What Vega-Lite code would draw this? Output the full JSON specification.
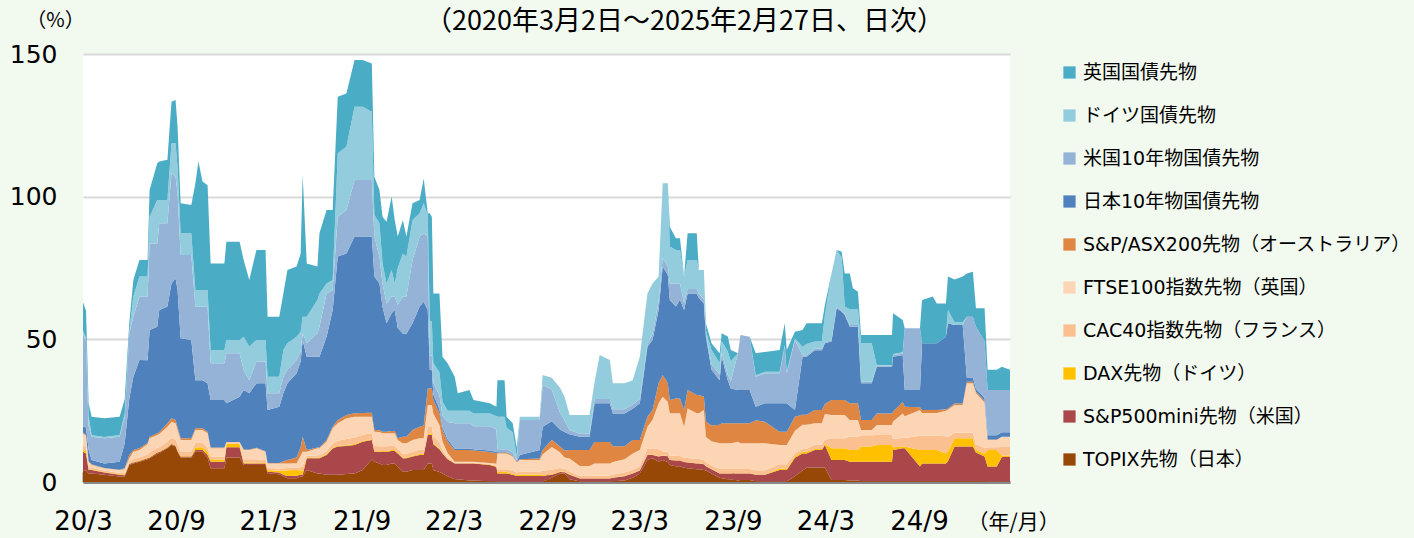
{
  "$schema": "https://vega.github.io/schema/vega-lite/v6.json",
  "width": 927,
  "height": 428,
  "autosize": {"type": "none"},
  "padding": {"left": 83, "top": 54, "right": 404, "bottom": 56},
  "background": "#f2f9ef",
  "title": {
    "text": "（2020年3月2日～2025年2月27日、日次）",
    "anchor": "middle",
    "frame": "group",
    "dx": 138,
    "dy": 46,
    "offset": 20,
    "font": "Noto Sans CJK JP",
    "fontSize": 27,
    "fontWeight": "normal",
    "color": "#000000"
  },
  "data": {"values": [
{"date":"2020-03-02","topix":4.2,"sp500":6.4,"dax":0.8,"cac40":1.5,"ftse100":4.1,"asx200":0.3,"jgb":2.1,"ust":32.6,"bund":1.0,"gilt":10.0},
{"date":"2020-03-08","topix":4.0,"sp500":6.0,"dax":0.8,"cac40":1.5,"ftse100":4.0,"asx200":0.3,"jgb":2.5,"ust":30.0,"bund":1.5,"gilt":9.4},
{"date":"2020-03-13","topix":3.0,"sp500":1.2,"dax":0.3,"cac40":0.8,"ftse100":1.8,"asx200":0.2,"jgb":4.0,"ust":8.2,"bund":3.5,"gilt":4.6},
{"date":"2020-03-19","topix":3.0,"sp500":1.2,"dax":0.2,"cac40":0.6,"ftse100":1.0,"asx200":0.2,"jgb":1.5,"ust":8.2,"bund":0.6,"gilt":6.4},
{"date":"2020-04-13","topix":2.5,"sp500":0.8,"dax":0.2,"cac40":0.5,"ftse100":0.8,"asx200":0.1,"jgb":1.6,"ust":8.8,"bund":0.5,"gilt":6.5},
{"date":"2020-05-13","topix":1.9,"sp500":0.6,"dax":0.2,"cac40":0.5,"ftse100":1.0,"asx200":0.1,"jgb":2.8,"ust":8.8,"bund":0.6,"gilt":6.4},
{"date":"2020-05-23","topix":1.9,"sp500":0.5,"dax":0.2,"cac40":0.5,"ftse100":1.5,"asx200":0.2,"jgb":8.8,"ust":9.3,"bund":1.0,"gilt":5.1},
{"date":"2020-06-01","topix":6.0,"sp500":0.3,"dax":0.2,"cac40":0.6,"ftse100":1.2,"asx200":1.2,"jgb":19.8,"ust":22.8,"bund":0.5,"gilt":3.0},
{"date":"2020-06-09","topix":6.5,"sp500":0.3,"dax":0.2,"cac40":1.0,"ftse100":2.6,"asx200":0.6,"jgb":25.7,"ust":21.0,"bund":7.1,"gilt":5.8},
{"date":"2020-06-21","topix":7.1,"sp500":0.3,"dax":0.2,"cac40":1.0,"ftse100":2.6,"asx200":0.6,"jgb":31.0,"ust":22.2,"bund":7.0,"gilt":5.8},
{"date":"2020-07-07","topix":8.0,"sp500":0.3,"dax":0.2,"cac40":1.2,"ftse100":3.5,"asx200":0.5,"jgb":29.0,"ust":22.3,"bund":7.0,"gilt":5.8},
{"date":"2020-07-11","topix":8.3,"sp500":0.3,"dax":0.2,"cac40":1.5,"ftse100":5.0,"asx200":0.6,"jgb":37.4,"ust":30.3,"bund":9.4,"gilt":9.3},
{"date":"2020-07-26","topix":10.0,"sp500":0.3,"dax":0.2,"cac40":1.5,"ftse100":4.5,"asx200":0.6,"jgb":37.3,"ust":29.2,"bund":15.2,"gilt":12.9},
{"date":"2020-07-30","topix":10.2,"sp500":0.3,"dax":0.2,"cac40":1.5,"ftse100":4.6,"asx200":0.6,"jgb":42.9,"ust":30.4,"bund":8.1,"gilt":13.5},
{"date":"2020-08-15","topix":11.8,"sp500":0.3,"dax":0.2,"cac40":1.8,"ftse100":5.3,"asx200":1.2,"jgb":40.9,"ust":29.2,"bund":8.1,"gilt":14.1},
{"date":"2020-08-23","topix":13.0,"sp500":0.3,"dax":0.2,"cac40":2.0,"ftse100":5.6,"asx200":1.2,"jgb":47.3,"ust":38.6,"bund":10.5,"gilt":14.6},
{"date":"2020-08-31","topix":12.4,"sp500":0.3,"dax":0.2,"cac40":2.0,"ftse100":5.7,"asx200":1.1,"jgb":49.7,"ust":35.6,"bund":11.7,"gilt":15.2},
{"date":"2020-09-04","topix":10.6,"sp500":0.3,"dax":0.2,"cac40":2.0,"ftse100":5.1,"asx200":1.0,"jgb":48.1,"ust":33.9,"bund":9.3,"gilt":14.0},
{"date":"2020-09-10","topix":8.6,"sp500":0.3,"dax":0.2,"cac40":1.6,"ftse100":4.0,"asx200":0.6,"jgb":35.1,"ust":29.2,"bund":7.6,"gilt":10.5},
{"date":"2020-10-01","topix":8.6,"sp500":0.3,"dax":0.2,"cac40":1.6,"ftse100":4.0,"asx200":0.6,"jgb":34.5,"ust":29.8,"bund":7.6,"gilt":9.9},
{"date":"2020-10-09","topix":10.6,"sp500":0.6,"dax":1.0,"cac40":1.5,"ftse100":4.5,"asx200":0.6,"jgb":16.9,"ust":25.7,"bund":5.9,"gilt":37.4},
{"date":"2020-10-15","topix":10.6,"sp500":0.6,"dax":1.0,"cac40":1.5,"ftse100":4.5,"asx200":0.6,"jgb":16.9,"ust":25.7,"bund":5.9,"gilt":45.0},
{"date":"2020-10-23","topix":10.6,"sp500":0.6,"dax":1.0,"cac40":1.5,"ftse100":4.5,"asx200":0.6,"jgb":16.9,"ust":25.7,"bund":5.9,"gilt":38.0},
{"date":"2020-11-02","topix":8.6,"sp500":0.9,"dax":1.1,"cac40":1.5,"ftse100":5.0,"asx200":0.5,"jgb":17.0,"ust":26.8,"bund":5.9,"gilt":36.7},
{"date":"2020-11-08","topix":4.8,"sp500":2.3,"dax":0.8,"cac40":1.0,"ftse100":2.9,"asx200":0.3,"jgb":16.6,"ust":12.9,"bund":4.7,"gilt":30.3},
{"date":"2020-12-05","topix":4.8,"sp500":2.3,"dax":0.8,"cac40":1.0,"ftse100":2.9,"asx200":0.3,"jgb":16.6,"ust":12.9,"bund":4.7,"gilt":30.3},
{"date":"2020-12-09","topix":8.6,"sp500":3.6,"dax":1.1,"cac40":0.3,"ftse100":0.3,"asx200":0.1,"jgb":13.6,"ust":17.5,"bund":4.7,"gilt":34.4},
{"date":"2021-01-04","topix":8.6,"sp500":3.6,"dax":1.1,"cac40":0.3,"ftse100":0.3,"asx200":0.1,"jgb":15.9,"ust":15.2,"bund":4.7,"gilt":34.4},
{"date":"2021-01-12","topix":6.0,"sp500":0.5,"dax":0.3,"cac40":1.2,"ftse100":3.2,"asx200":0.2,"jgb":20.8,"ust":7.0,"bund":11.7,"gilt":26.9},
{"date":"2021-01-23","topix":6.0,"sp500":0.5,"dax":0.3,"cac40":1.2,"ftse100":3.2,"asx200":0.2,"jgb":19.7,"ust":4.6,"bund":11.7,"gilt":23.4},
{"date":"2021-02-06","topix":6.0,"sp500":0.5,"dax":0.2,"cac40":1.3,"ftse100":3.8,"asx200":0.2,"jgb":22.6,"ust":7.6,"bund":7.6,"gilt":31.5},
{"date":"2021-02-24","topix":6.0,"sp500":0.5,"dax":0.2,"cac40":1.0,"ftse100":2.9,"asx200":0.2,"jgb":23.8,"ust":7.6,"bund":7.6,"gilt":31.5},
{"date":"2021-02-28","topix":3.0,"sp500":0.6,"dax":0.6,"cac40":0.7,"ftse100":1.6,"asx200":0.2,"jgb":18.5,"ust":5.9,"bund":5.8,"gilt":21.0},
{"date":"2021-03-23","topix":2.7,"sp500":0.6,"dax":0.6,"cac40":0.8,"ftse100":1.8,"asx200":0.2,"jgb":19.7,"ust":4.7,"bund":5.8,"gilt":21.0},
{"date":"2021-03-31","topix":2.0,"sp500":0.5,"dax":1.5,"cac40":0.8,"ftse100":1.7,"asx200":0.8,"jgb":23.8,"ust":5.8,"bund":9.4,"gilt":19.8},
{"date":"2021-04-08","topix":1.3,"sp500":0.8,"dax":2.0,"cac40":0.8,"ftse100":1.6,"asx200":1.2,"jgb":26.9,"ust":4.7,"bund":9.3,"gilt":25.7},
{"date":"2021-04-26","topix":1.3,"sp500":0.9,"dax":2.0,"cac40":0.8,"ftse100":1.6,"asx200":2.0,"jgb":29.5,"ust":4.7,"bund":8.1,"gilt":24.6},
{"date":"2021-05-04","topix":1.9,"sp500":0.6,"dax":1.5,"cac40":1.2,"ftse100":4.0,"asx200":3.0,"jgb":30.0,"ust":3.5,"bund":7.0,"gilt":27.3},
{"date":"2021-05-08","topix":1.9,"sp500":0.6,"dax":1.5,"cac40":1.5,"ftse100":5.1,"asx200":5.3,"jgb":33.9,"ust":2.3,"bund":5.8,"gilt":49.7},
{"date":"2021-05-16","topix":4.2,"sp500":4.1,"dax":0.3,"cac40":0.6,"ftse100":1.4,"asx200":0.6,"jgb":32.7,"ust":4.7,"bund":9.3,"gilt":18.7},
{"date":"2021-06-06","topix":3.0,"sp500":5.3,"dax":0.3,"cac40":0.8,"ftse100":2.4,"asx200":0.3,"jgb":31.8,"ust":8.2,"bund":11.7,"gilt":11.7},
{"date":"2021-06-10","topix":3.0,"sp500":5.3,"dax":0.3,"cac40":0.8,"ftse100":2.4,"asx200":0.3,"jgb":31.8,"ust":10.5,"bund":11.7,"gilt":21.1},
{"date":"2021-06-24","topix":2.5,"sp500":7.0,"dax":0.3,"cac40":1.0,"ftse100":3.3,"asx200":0.6,"jgb":36.2,"ust":15.2,"bund":3.5,"gilt":25.7},
{"date":"2021-07-06","topix":2.5,"sp500":9.2,"dax":0.3,"cac40":1.5,"ftse100":5.3,"asx200":0.6,"jgb":40.9,"ust":7.0,"bund":3.5,"gilt":24.5},
{"date":"2021-07-16","topix":2.5,"sp500":9.9,"dax":0.3,"cac40":1.8,"ftse100":6.1,"asx200":1.1,"jgb":57.3,"ust":14.0,"bund":22.2,"gilt":19.8},
{"date":"2021-08-02","topix":2.8,"sp500":9.8,"dax":0.3,"cac40":2.2,"ftse100":7.2,"asx200":1.2,"jgb":56.6,"ust":15.2,"bund":22.2,"gilt":18.7},
{"date":"2021-08-18","topix":3.0,"sp500":10.0,"dax":0.3,"cac40":2.3,"ftse100":7.3,"asx200":1.2,"jgb":61.9,"ust":19.8,"bund":25.7,"gilt":16.4},
{"date":"2021-09-03","topix":4.2,"sp500":9.9,"dax":0.3,"cac40":2.2,"ftse100":6.3,"asx200":1.3,"jgb":61.8,"ust":19.8,"bund":25.7,"gilt":16.4},
{"date":"2021-09-21","topix":7.9,"sp500":6.8,"dax":0.3,"cac40":2.2,"ftse100":5.7,"asx200":1.4,"jgb":61.7,"ust":19.8,"bund":24.0,"gilt":16.9},
{"date":"2021-09-26","topix":7.1,"sp500":3.5,"dax":0.3,"cac40":1.7,"ftse100":5.0,"asx200":0.6,"jgb":53.8,"ust":14.0,"bund":7.7,"gilt":13.3},
{"date":"2021-10-06","topix":6.5,"sp500":4.0,"dax":0.3,"cac40":1.7,"ftse100":5.0,"asx200":0.6,"jgb":51.5,"ust":9.4,"bund":11.7,"gilt":11.6},
{"date":"2021-10-12","topix":6.0,"sp500":4.6,"dax":0.3,"cac40":1.6,"ftse100":4.6,"asx200":0.5,"jgb":43.8,"ust":8.2,"bund":7.0,"gilt":16.4},
{"date":"2021-10-20","topix":6.0,"sp500":4.6,"dax":0.3,"cac40":1.6,"ftse100":4.6,"asx200":0.5,"jgb":38.0,"ust":7.0,"bund":7.0,"gilt":21.6},
{"date":"2021-10-30","topix":6.5,"sp500":4.4,"dax":0.3,"cac40":1.5,"ftse100":4.4,"asx200":0.8,"jgb":41.2,"ust":5.9,"bund":9.3,"gilt":25.8},
{"date":"2021-11-05","topix":6.5,"sp500":4.4,"dax":0.3,"cac40":1.5,"ftse100":4.4,"asx200":0.8,"jgb":42.4,"ust":4.7,"bund":4.6,"gilt":22.2},
{"date":"2021-11-11","topix":5.4,"sp500":4.6,"dax":0.3,"cac40":1.2,"ftse100":3.2,"asx200":0.6,"jgb":38.7,"ust":8.0,"bund":13.0,"gilt":11.0},
{"date":"2021-11-21","topix":3.6,"sp500":4.7,"dax":0.3,"cac40":1.3,"ftse100":3.7,"asx200":2.3,"jgb":36.1,"ust":13.0,"bund":15.0,"gilt":11.8},
{"date":"2021-11-28","topix":3.6,"sp500":4.7,"dax":0.3,"cac40":1.3,"ftse100":3.7,"asx200":2.3,"jgb":36.1,"ust":13.0,"bund":14.0,"gilt":7.0},
{"date":"2021-12-10","topix":4.2,"sp500":4.7,"dax":0.3,"cac40":1.5,"ftse100":4.0,"asx200":3.5,"jgb":37.4,"ust":22.2,"bund":14.0,"gilt":5.9},
{"date":"2021-12-24","topix":4.2,"sp500":5.3,"dax":0.3,"cac40":1.5,"ftse100":4.0,"asx200":4.1,"jgb":42.1,"ust":24.5,"bund":8.2,"gilt":4.6},
{"date":"2022-01-01","topix":4.2,"sp500":5.3,"dax":0.3,"cac40":1.5,"ftse100":4.0,"asx200":4.5,"jgb":43.4,"ust":24.0,"bund":10.5,"gilt":8.7},
{"date":"2022-01-09","topix":6.5,"sp500":10.0,"dax":0.5,"cac40":2.5,"ftse100":7.5,"asx200":5.8,"jgb":27.5,"ust":25.7,"bund":7.6,"gilt":0.6},
{"date":"2022-01-13","topix":6.5,"sp500":10.0,"dax":0.5,"cac40":2.5,"ftse100":7.5,"asx200":5.8,"jgb":6.5,"ust":5.0,"bund":12.0,"gilt":37.9},
{"date":"2022-01-17","topix":6.5,"sp500":10.0,"dax":0.5,"cac40":2.5,"ftse100":7.5,"asx200":5.8,"jgb":6.5,"ust":5.0,"bund":12.0,"gilt":36.7},
{"date":"2022-01-20","topix":4.2,"sp500":9.0,"dax":0.3,"cac40":2.5,"ftse100":8.0,"asx200":4.7,"jgb":2.0,"ust":4.0,"bund":7.0,"gilt":24.4},
{"date":"2022-02-01","topix":3.5,"sp500":8.0,"dax":0.3,"cac40":2.2,"ftse100":6.0,"asx200":4.0,"jgb":1.5,"ust":5.0,"bund":8.0,"gilt":27.6},
{"date":"2022-02-07","topix":3.0,"sp500":7.0,"dax":0.2,"cac40":1.0,"ftse100":3.0,"asx200":4.0,"jgb":1.0,"ust":4.0,"bund":5.0,"gilt":15.7},
{"date":"2022-02-17","topix":2.0,"sp500":6.0,"dax":0.2,"cac40":0.5,"ftse100":1.5,"asx200":4.0,"jgb":0.8,"ust":6.0,"bund":4.0,"gilt":16.6},
{"date":"2022-03-03","topix":1.0,"sp500":5.5,"dax":0.1,"cac40":0.2,"ftse100":0.3,"asx200":4.1,"jgb":0.5,"ust":8.9,"bund":4.4,"gilt":11.9},
{"date":"2022-03-09","topix":1.0,"sp500":5.5,"dax":0.1,"cac40":0.2,"ftse100":0.3,"asx200":4.1,"jgb":0.5,"ust":8.9,"bund":4.4,"gilt":6.1},
{"date":"2022-04-01","topix":0.5,"sp500":6.0,"dax":0.1,"cac40":0.2,"ftse100":0.3,"asx200":4.1,"jgb":0.5,"ust":8.9,"bund":4.4,"gilt":7.2},
{"date":"2022-04-09","topix":0.5,"sp500":6.0,"dax":0.1,"cac40":0.2,"ftse100":0.3,"asx200":3.9,"jgb":0.5,"ust":8.0,"bund":4.5,"gilt":4.7},
{"date":"2022-05-11","topix":0.3,"sp500":5.7,"dax":0.1,"cac40":0.2,"ftse100":0.4,"asx200":3.8,"jgb":0.5,"ust":8.5,"bund":4.5,"gilt":3.6},
{"date":"2022-05-24","topix":0.3,"sp500":5.0,"dax":0.2,"cac40":0.3,"ftse100":0.6,"asx200":3.6,"jgb":0.5,"ust":8.0,"bund":4.5,"gilt":3.4},
{"date":"2022-05-26","topix":0.2,"sp500":2.8,"dax":0.5,"cac40":1.0,"ftse100":5.5,"asx200":0.3,"jgb":0.2,"ust":1.0,"bund":11.4,"gilt":12.8},
{"date":"2022-06-09","topix":0.2,"sp500":2.8,"dax":0.5,"cac40":1.0,"ftse100":5.5,"asx200":0.3,"jgb":0.2,"ust":1.0,"bund":11.4,"gilt":12.8},
{"date":"2022-06-13","topix":0.2,"sp500":2.8,"dax":0.5,"cac40":1.0,"ftse100":5.5,"asx200":0.3,"jgb":0.2,"ust":1.0,"bund":7.5,"gilt":3.9},
{"date":"2022-06-25","topix":0.1,"sp500":2.4,"dax":0.4,"cac40":1.0,"ftse100":5.0,"asx200":0.3,"jgb":0.2,"ust":1.0,"bund":7.0,"gilt":3.2},
{"date":"2022-07-03","topix":0.1,"sp500":2.0,"dax":0.4,"cac40":0.8,"ftse100":3.5,"asx200":0.2,"jgb":0.2,"ust":0.5,"bund":1.3,"gilt":3.0},
{"date":"2022-07-09","topix":0.1,"sp500":2.0,"dax":0.5,"cac40":1.0,"ftse100":4.1,"asx200":0.3,"jgb":1.5,"ust":12.2,"bund":1.2,"gilt":0.0},
{"date":"2022-08-17","topix":0.1,"sp500":2.0,"dax":0.5,"cac40":1.0,"ftse100":4.1,"asx200":0.5,"jgb":3.0,"ust":10.5,"bund":1.2,"gilt":0.0},
{"date":"2022-08-23","topix":0.1,"sp500":2.0,"dax":0.3,"cac40":1.5,"ftse100":5.8,"asx200":1.5,"jgb":8.2,"ust":14.6,"bund":3.5,"gilt":0.0},
{"date":"2022-09-10","topix":1.5,"sp500":1.0,"dax":0.3,"cac40":1.5,"ftse100":8.0,"asx200":2.5,"jgb":6.5,"ust":11.0,"bund":4.2,"gilt":0.0},
{"date":"2022-09-26","topix":3.0,"sp500":0.5,"dax":0.2,"cac40":1.2,"ftse100":5.5,"asx200":2.0,"jgb":6.0,"ust":6.0,"bund":8.6,"gilt":0.0},
{"date":"2022-10-05","topix":3.0,"sp500":0.4,"dax":0.2,"cac40":1.0,"ftse100":4.0,"asx200":2.4,"jgb":6.5,"ust":4.0,"bund":8.4,"gilt":0.0},
{"date":"2022-10-15","topix":1.0,"sp500":1.5,"dax":0.2,"cac40":1.0,"ftse100":4.5,"asx200":3.0,"jgb":5.5,"ust":1.5,"bund":5.3,"gilt":0.0},
{"date":"2022-11-04","topix":0.2,"sp500":1.0,"dax":0.1,"cac40":0.8,"ftse100":3.5,"asx200":5.6,"jgb":4.7,"ust":1.0,"bund":6.6,"gilt":0.0},
{"date":"2022-11-23","topix":0.2,"sp500":1.0,"dax":0.1,"cac40":0.8,"ftse100":3.5,"asx200":5.6,"jgb":4.7,"ust":1.0,"bund":6.6,"gilt":0.0},
{"date":"2022-12-03","topix":0.2,"sp500":1.0,"dax":0.1,"cac40":1.0,"ftse100":4.2,"asx200":7.5,"jgb":13.6,"ust":1.5,"bund":5.9,"gilt":0.0},
{"date":"2022-12-13","topix":0.2,"sp500":1.0,"dax":0.1,"cac40":1.0,"ftse100":4.2,"asx200":7.5,"jgb":13.6,"ust":1.5,"bund":15.4,"gilt":0.0},
{"date":"2023-01-02","topix":0.2,"sp500":1.0,"dax":0.1,"cac40":1.0,"ftse100":4.2,"asx200":7.5,"jgb":13.6,"ust":1.5,"bund":13.7,"gilt":0.0},
{"date":"2023-01-08","topix":0.3,"sp500":1.2,"dax":0.1,"cac40":1.0,"ftse100":4.4,"asx200":5.5,"jgb":11.5,"ust":1.5,"bund":9.1,"gilt":0.0},
{"date":"2023-01-31","topix":0.5,"sp500":1.5,"dax":0.1,"cac40":1.2,"ftse100":4.7,"asx200":4.5,"jgb":11.5,"ust":1.5,"bund":9.1,"gilt":0.0},
{"date":"2023-02-16","topix":1.5,"sp500":1.5,"dax":0.1,"cac40":1.2,"ftse100":5.7,"asx200":4.7,"jgb":11.0,"ust":1.5,"bund":8.5,"gilt":0.0},
{"date":"2023-03-02","topix":3.0,"sp500":1.0,"dax":0.1,"cac40":1.5,"ftse100":5.6,"asx200":3.5,"jgb":12.9,"ust":1.5,"bund":14.8,"gilt":0.0},
{"date":"2023-03-17","topix":7.7,"sp500":1.8,"dax":0.1,"cac40":2.0,"ftse100":7.8,"asx200":3.5,"jgb":24.5,"ust":0.8,"bund":17.9,"gilt":0.0},
{"date":"2023-03-27","topix":8.3,"sp500":1.2,"dax":0.1,"cac40":2.2,"ftse100":9.9,"asx200":3.5,"jgb":24.6,"ust":2.0,"bund":17.8,"gilt":0.0},
{"date":"2023-04-08","topix":7.1,"sp500":1.8,"dax":0.1,"cac40":2.5,"ftse100":16.1,"asx200":7.0,"jgb":25.7,"ust":3.0,"bund":8.7,"gilt":0.0},
{"date":"2023-04-16","topix":7.7,"sp500":1.5,"dax":0.1,"cac40":1.5,"ftse100":19.1,"asx200":7.6,"jgb":38.0,"ust":3.0,"bund":26.2,"gilt":0.0},
{"date":"2023-04-26","topix":7.0,"sp500":2.0,"dax":0.1,"cac40":1.5,"ftse100":17.5,"asx200":6.5,"jgb":38.0,"ust":3.0,"bund":29.1,"gilt":0.0},
{"date":"2023-04-30","topix":6.0,"sp500":1.7,"dax":0.1,"cac40":1.5,"ftse100":14.8,"asx200":4.6,"jgb":35.1,"ust":5.8,"bund":12.9,"gilt":7.0},
{"date":"2023-05-12","topix":5.5,"sp500":2.0,"dax":0.1,"cac40":1.5,"ftse100":15.0,"asx200":5.2,"jgb":32.2,"ust":8.1,"bund":11.7,"gilt":4.1},
{"date":"2023-05-20","topix":5.5,"sp500":2.0,"dax":0.1,"cac40":1.5,"ftse100":15.0,"asx200":5.2,"jgb":34.7,"ust":5.6,"bund":11.7,"gilt":4.1},
{"date":"2023-05-28","topix":5.0,"sp500":2.0,"dax":0.1,"cac40":1.5,"ftse100":10.8,"asx200":5.8,"jgb":35.1,"ust":2.5,"bund":9.2,"gilt":0.0},
{"date":"2023-06-04","topix":4.8,"sp500":2.0,"dax":0.1,"cac40":1.5,"ftse100":17.4,"asx200":6.4,"jgb":33.9,"ust":1.5,"bund":10.2,"gilt":9.4},
{"date":"2023-06-22","topix":4.5,"sp500":2.0,"dax":0.1,"cac40":1.5,"ftse100":16.0,"asx200":6.4,"jgb":35.6,"ust":1.5,"bund":10.2,"gilt":9.4},
{"date":"2023-06-26","topix":4.5,"sp500":2.0,"dax":0.1,"cac40":1.5,"ftse100":16.0,"asx200":6.4,"jgb":34.0,"ust":1.5,"bund":8.3,"gilt":0.0},
{"date":"2023-07-06","topix":4.2,"sp500":2.0,"dax":0.1,"cac40":1.5,"ftse100":17.4,"asx200":4.7,"jgb":32.7,"ust":1.5,"bund":10.2,"gilt":0.0},
{"date":"2023-07-10","topix":4.0,"sp500":1.5,"dax":0.1,"cac40":1.3,"ftse100":9.0,"asx200":5.3,"jgb":29.7,"ust":0.6,"bund":1.5,"gilt":2.6},
{"date":"2023-07-21","topix":3.0,"sp500":1.5,"dax":0.1,"cac40":1.2,"ftse100":8.5,"asx200":5.5,"jgb":19.5,"ust":2.0,"bund":5.0,"gilt":2.3},
{"date":"2023-08-06","topix":1.5,"sp500":1.5,"dax":0.1,"cac40":1.5,"ftse100":9.0,"asx200":6.5,"jgb":15.6,"ust":2.0,"bund":4.0,"gilt":3.4},
{"date":"2023-08-10","topix":1.3,"sp500":1.7,"dax":0.1,"cac40":1.5,"ftse100":9.0,"asx200":7.0,"jgb":23.3,"ust":1.5,"bund":4.0,"gilt":2.7},
{"date":"2023-08-22","topix":1.0,"sp500":2.0,"dax":0.1,"cac40":1.5,"ftse100":9.0,"asx200":7.0,"jgb":15.1,"ust":2.0,"bund":8.0,"gilt":5.3},
{"date":"2023-08-28","topix":1.0,"sp500":2.0,"dax":0.1,"cac40":1.5,"ftse100":9.0,"asx200":7.0,"jgb":12.2,"ust":2.5,"bund":7.0,"gilt":4.0},
{"date":"2023-09-11","topix":0.5,"sp500":2.5,"dax":0.1,"cac40":1.5,"ftse100":9.5,"asx200":6.5,"jgb":11.6,"ust":12.9,"bund":0.0,"gilt":0.0},
{"date":"2023-09-16","topix":0.7,"sp500":2.3,"dax":0.1,"cac40":1.5,"ftse100":9.0,"asx200":7.0,"jgb":11.6,"ust":19.3,"bund":0.0,"gilt":0.0},
{"date":"2023-10-04","topix":0.7,"sp500":2.3,"dax":0.1,"cac40":1.5,"ftse100":9.0,"asx200":7.0,"jgb":11.6,"ust":18.7,"bund":0.0,"gilt":0.0},
{"date":"2023-10-16","topix":0.3,"sp500":2.2,"dax":0.1,"cac40":1.5,"ftse100":9.5,"asx200":8.0,"jgb":4.8,"ust":10.5,"bund":0.5,"gilt":7.7},
{"date":"2023-11-03","topix":0.2,"sp500":2.3,"dax":0.1,"cac40":1.5,"ftse100":9.5,"asx200":7.5,"jgb":6.5,"ust":10.5,"bund":0.5,"gilt":7.0},
{"date":"2023-12-02","topix":0.2,"sp500":4.0,"dax":0.5,"cac40":1.5,"ftse100":6.8,"asx200":4.6,"jgb":10.0,"ust":10.5,"bund":0.5,"gilt":7.7},
{"date":"2023-12-12","topix":0.2,"sp500":4.0,"dax":0.5,"cac40":1.5,"ftse100":6.8,"asx200":4.6,"jgb":10.0,"ust":19.8,"bund":0.5,"gilt":7.7},
{"date":"2023-12-16","topix":0.2,"sp500":4.0,"dax":0.5,"cac40":1.5,"ftse100":6.8,"asx200":4.6,"jgb":10.0,"ust":10.5,"bund":0.5,"gilt":7.7},
{"date":"2024-01-01","topix":2.0,"sp500":6.5,"dax":0.5,"cac40":1.2,"ftse100":7.8,"asx200":4.9,"jgb":2.3,"ust":24.6,"bund":0.5,"gilt":2.4},
{"date":"2024-01-16","topix":4.0,"sp500":6.0,"dax":0.6,"cac40":1.0,"ftse100":8.5,"asx200":3.5,"jgb":20.3,"ust":0.5,"bund":3.0,"gilt":5.9},
{"date":"2024-01-24","topix":5.0,"sp500":5.0,"dax":0.6,"cac40":1.0,"ftse100":8.5,"asx200":3.5,"jgb":20.3,"ust":0.5,"bund":4.0,"gilt":7.2},
{"date":"2024-02-09","topix":5.1,"sp500":6.1,"dax":0.4,"cac40":1.5,"ftse100":7.5,"asx200":4.6,"jgb":21.0,"ust":0.5,"bund":2.5,"gilt":6.4},
{"date":"2024-02-23","topix":5.1,"sp500":6.1,"dax":0.4,"cac40":1.5,"ftse100":7.5,"asx200":4.6,"jgb":21.0,"ust":0.5,"bund":2.5,"gilt":6.4},
{"date":"2024-02-29","topix":5.1,"sp500":7.9,"dax":0.3,"cac40":1.5,"ftse100":9.0,"asx200":3.5,"jgb":21.3,"ust":0.5,"bund":9.4,"gilt":3.5},
{"date":"2024-03-13","topix":0.7,"sp500":7.0,"dax":4.1,"cac40":3.5,"ftse100":8.2,"asx200":5.2,"jgb":20.5,"ust":0.5,"bund":23.4,"gilt":0.0},
{"date":"2024-03-23","topix":0.7,"sp500":7.0,"dax":4.1,"cac40":3.5,"ftse100":8.2,"asx200":5.2,"jgb":32.2,"ust":0.5,"bund":19.9,"gilt":0.0},
{"date":"2024-04-02","topix":0.7,"sp500":7.0,"dax":4.1,"cac40":3.5,"ftse100":8.2,"asx200":5.2,"jgb":31.0,"ust":0.5,"bund":18.5,"gilt":2.0},
{"date":"2024-04-08","topix":0.7,"sp500":7.0,"dax":4.1,"cac40":3.5,"ftse100":8.2,"asx200":5.2,"jgb":29.8,"ust":0.5,"bund":2.5,"gilt":11.6},
{"date":"2024-04-18","topix":0.5,"sp500":6.6,"dax":4.1,"cac40":4.7,"ftse100":5.8,"asx200":5.9,"jgb":26.8,"ust":0.6,"bund":5.5,"gilt":12.6},
{"date":"2024-04-24","topix":0.5,"sp500":6.6,"dax":4.1,"cac40":4.7,"ftse100":5.8,"asx200":5.9,"jgb":26.8,"ust":0.6,"bund":5.5,"gilt":7.4},
{"date":"2024-05-04","topix":0.5,"sp500":6.6,"dax":4.1,"cac40":4.7,"ftse100":5.8,"asx200":5.9,"jgb":26.8,"ust":0.6,"bund":5.5,"gilt":6.2},
{"date":"2024-05-10","topix":0.3,"sp500":6.8,"dax":5.3,"cac40":4.0,"ftse100":1.8,"asx200":3.5,"jgb":12.9,"ust":0.5,"bund":13.5,"gilt":2.9},
{"date":"2024-05-31","topix":0.3,"sp500":6.8,"dax":5.3,"cac40":4.0,"ftse100":1.8,"asx200":3.5,"jgb":12.9,"ust":0.5,"bund":13.5,"gilt":2.9},
{"date":"2024-06-10","topix":0.3,"sp500":6.8,"dax":5.9,"cac40":3.5,"ftse100":3.5,"asx200":4.0,"jgb":16.4,"ust":0.3,"bund":0.3,"gilt":10.5},
{"date":"2024-07-10","topix":0.3,"sp500":6.8,"dax":5.9,"cac40":3.5,"ftse100":3.5,"asx200":4.0,"jgb":16.4,"ust":0.3,"bund":0.3,"gilt":10.5},
{"date":"2024-07-12","topix":0.3,"sp500":10.9,"dax":1.0,"cac40":3.0,"ftse100":6.0,"asx200":3.5,"jgb":19.2,"ust":0.5,"bund":0.5,"gilt":14.2},
{"date":"2024-07-31","topix":0.3,"sp500":11.5,"dax":0.6,"cac40":3.0,"ftse100":8.6,"asx200":4.0,"jgb":16.5,"ust":0.5,"bund":0.5,"gilt":11.3},
{"date":"2024-08-04","topix":0.3,"sp500":11.5,"dax":0.6,"cac40":3.0,"ftse100":7.6,"asx200":3.4,"jgb":5.8,"ust":21.7,"bund":0.0,"gilt":0.0},
{"date":"2024-09-03","topix":0.3,"sp500":5.1,"dax":5.8,"cac40":5.0,"ftse100":9.0,"asx200":1.0,"jgb":6.0,"ust":21.7,"bund":0.0,"gilt":0.0},
{"date":"2024-09-07","topix":0.3,"sp500":6.2,"dax":4.7,"cac40":5.0,"ftse100":8.0,"asx200":1.0,"jgb":23.4,"ust":0.0,"bund":0.0,"gilt":15.2},
{"date":"2024-09-28","topix":0.3,"sp500":6.2,"dax":4.7,"cac40":5.0,"ftse100":8.0,"asx200":1.0,"jgb":23.4,"ust":0.0,"bund":0.0,"gilt":16.4},
{"date":"2024-10-06","topix":0.3,"sp500":6.2,"dax":4.7,"cac40":5.0,"ftse100":8.0,"asx200":1.0,"jgb":23.4,"ust":0.0,"bund":0.0,"gilt":14.0},
{"date":"2024-10-24","topix":0.3,"sp500":6.2,"dax":3.5,"cac40":6.0,"ftse100":9.0,"asx200":0.5,"jgb":25.4,"ust":0.0,"bund":0.0,"gilt":11.7},
{"date":"2024-10-28","topix":0.3,"sp500":7.0,"dax":3.5,"cac40":5.0,"ftse100":9.5,"asx200":0.5,"jgb":29.8,"ust":0.0,"bund":4.7,"gilt":11.7},
{"date":"2024-11-10","topix":0.3,"sp500":12.1,"dax":2.9,"cac40":2.0,"ftse100":9.7,"asx200":0.5,"jgb":27.5,"ust":0.0,"bund":1.0,"gilt":15.0},
{"date":"2024-11-26","topix":0.3,"sp500":12.1,"dax":2.9,"cac40":2.0,"ftse100":9.7,"asx200":0.5,"jgb":27.5,"ust":0.0,"bund":1.0,"gilt":16.0},
{"date":"2024-12-04","topix":0.3,"sp500":12.1,"dax":2.9,"cac40":2.0,"ftse100":17.3,"asx200":0.5,"jgb":1.5,"ust":21.3,"bund":0.0,"gilt":15.2},
{"date":"2024-12-16","topix":0.3,"sp500":12.1,"dax":2.9,"cac40":2.0,"ftse100":17.3,"asx200":0.5,"jgb":1.5,"ust":21.3,"bund":0.0,"gilt":15.8},
{"date":"2024-12-22","topix":0.3,"sp500":10.0,"dax":1.0,"cac40":2.0,"ftse100":17.9,"asx200":0.5,"jgb":1.0,"ust":21.7,"bund":0.0,"gilt":6.5},
{"date":"2025-01-08","topix":0.3,"sp500":8.6,"dax":1.0,"cac40":2.0,"ftse100":16.0,"asx200":0.5,"jgb":1.0,"ust":20.0,"bund":0.0,"gilt":11.5},
{"date":"2025-01-14","topix":0.2,"sp500":5.2,"dax":5.8,"cac40":1.0,"ftse100":2.5,"asx200":0.2,"jgb":1.5,"ust":15.8,"bund":0.0,"gilt":7.1},
{"date":"2025-02-01","topix":0.2,"sp500":5.2,"dax":5.8,"cac40":1.0,"ftse100":2.5,"asx200":0.2,"jgb":1.5,"ust":15.8,"bund":0.0,"gilt":7.1},
{"date":"2025-02-11","topix":0.2,"sp500":8.6,"dax":0.5,"cac40":3.0,"ftse100":3.6,"asx200":0.0,"jgb":1.5,"ust":14.8,"bund":0.0,"gilt":8.2},
{"date":"2025-02-27","topix":0.2,"sp500":8.6,"dax":0.5,"cac40":3.0,"ftse100":3.6,"asx200":0.0,"jgb":1.5,"ust":14.8,"bund":0.0,"gilt":7.1}
  ]},
  "transform": [
    {"fold": ["topix","sp500","dax","cac40","ftse100","asx200","jgb","ust","bund","gilt"], "as": ["key","value"]},
    {"lookup": "key", "from": {"data": {"values": [
      {"key":"topix","name":"TOPIX先物（日本）","ord":1},
      {"key":"sp500","name":"S&P500mini先物（米国）","ord":2},
      {"key":"dax","name":"DAX先物（ドイツ）","ord":3},
      {"key":"cac40","name":"CAC40指数先物（フランス）","ord":4},
      {"key":"ftse100","name":"FTSE100指数先物（英国）","ord":5},
      {"key":"asx200","name":"S&P/ASX200先物（オーストラリア）","ord":6},
      {"key":"jgb","name":"日本10年物国債先物","ord":7},
      {"key":"ust","name":"米国10年物国債先物","ord":8},
      {"key":"bund","name":"ドイツ国債先物","ord":9},
      {"key":"gilt","name":"英国国債先物","ord":10}
    ]}, "key": "key", "fields": ["name","ord"]}}
  ],
  "mark": {"type": "area", "interpolate": "linear", "clip": true},
  "encoding": {
    "x": {
      "field": "date", "type": "temporal",
      "scale": {"type": "utc", "domain": [{"year":2020,"month":3,"date":2,"utc":true},{"year":2025,"month":2,"date":27,"utc":true}]},
      "axis": {
        "values": [
          {"year":2020,"month":3,"date":2,"utc":true},
          {"year":2020,"month":9,"date":1,"utc":true},
          {"year":2021,"month":3,"date":1,"utc":true},
          {"year":2021,"month":9,"date":1,"utc":true},
          {"year":2022,"month":3,"date":1,"utc":true},
          {"year":2022,"month":9,"date":1,"utc":true},
          {"year":2023,"month":3,"date":1,"utc":true},
          {"year":2023,"month":9,"date":1,"utc":true},
          {"year":2024,"month":3,"date":1,"utc":true},
          {"year":2024,"month":9,"date":1,"utc":true}
        ],
        "labelExpr": "utcFormat(datum.value, '%y/%-m')",
        "labelFont": "DejaVu Sans", "labelFontSize": 26, "labelColor": "#000000",
        "labelFlush": false, "labelOverlap": false, "labelPadding": 36,
        "tickSize": -10, "tickColor": "#878787", "tickWidth": 2,
        "domainColor": "#878787", "domainWidth": 3,
        "grid": false,
        "title": "（年/月）", "titleFont": "Noto Sans CJK JP", "titleFontSize": 21, "titleFontWeight": "normal",
        "titleColor": "#000000",
        "titleX": 884, "titleY": 40, "titleAlign": "left", "titleBaseline": "middle"
      }
    },
    "y": {
      "field": "value", "type": "quantitative", "stack": "zero",
      "scale": {"domain": [0, 150], "nice": false},
      "axis": {
        "values": [0, 50, 100, 150],
        "domain": false, "ticks": false, "labelPadding": 26,
        "labelFont": "DejaVu Sans", "labelFontSize": 25, "labelColor": "#000000",
        "grid": true, "gridColor": "#d9d9d9", "gridWidth": 2,
        "title": "（%）", "titleAngle": 0, "titleX": -28, "titleY": -34,
        "titleAlign": "center", "titleBaseline": "middle",
        "titleFont": "Noto Sans CJK JP", "titleFontSize": 20, "titleFontWeight": "normal", "titleColor": "#000000"
      }
    },
    "color": {
      "field": "name", "type": "nominal",
      "scale": {
        "domain": ["英国国債先物","ドイツ国債先物","米国10年物国債先物","日本10年物国債先物","S&P/ASX200先物（オーストラリア）","FTSE100指数先物（英国）","CAC40指数先物（フランス）","DAX先物（ドイツ）","S&P500mini先物（米国）","TOPIX先物（日本）"],
        "range": ["#4BACC6","#93CDDD","#95B3D7","#4F81BD","#DE8642","#FCD5B5","#FAC090","#FFC000","#A9474A","#974706"]
      },
      "legend": {
        "orient": "none", "legendX": 977, "legendY": 9, "title": null,
        "symbolType": "square", "symbolSize": 150, "symbolStrokeWidth": 0,
        "labelFont": "DejaVu Sans, Noto Sans CJK JP", "labelFontSize": 19, "labelColor": "#000000",
        "labelLimit": 400, "rowPadding": 23, "labelOffset": 4, "padding": 0
      }
    },
    "order": {"field": "ord", "type": "quantitative"}
  },
  "config": {
    "view": {"fill": "#ffffff", "stroke": null}
  }
}
